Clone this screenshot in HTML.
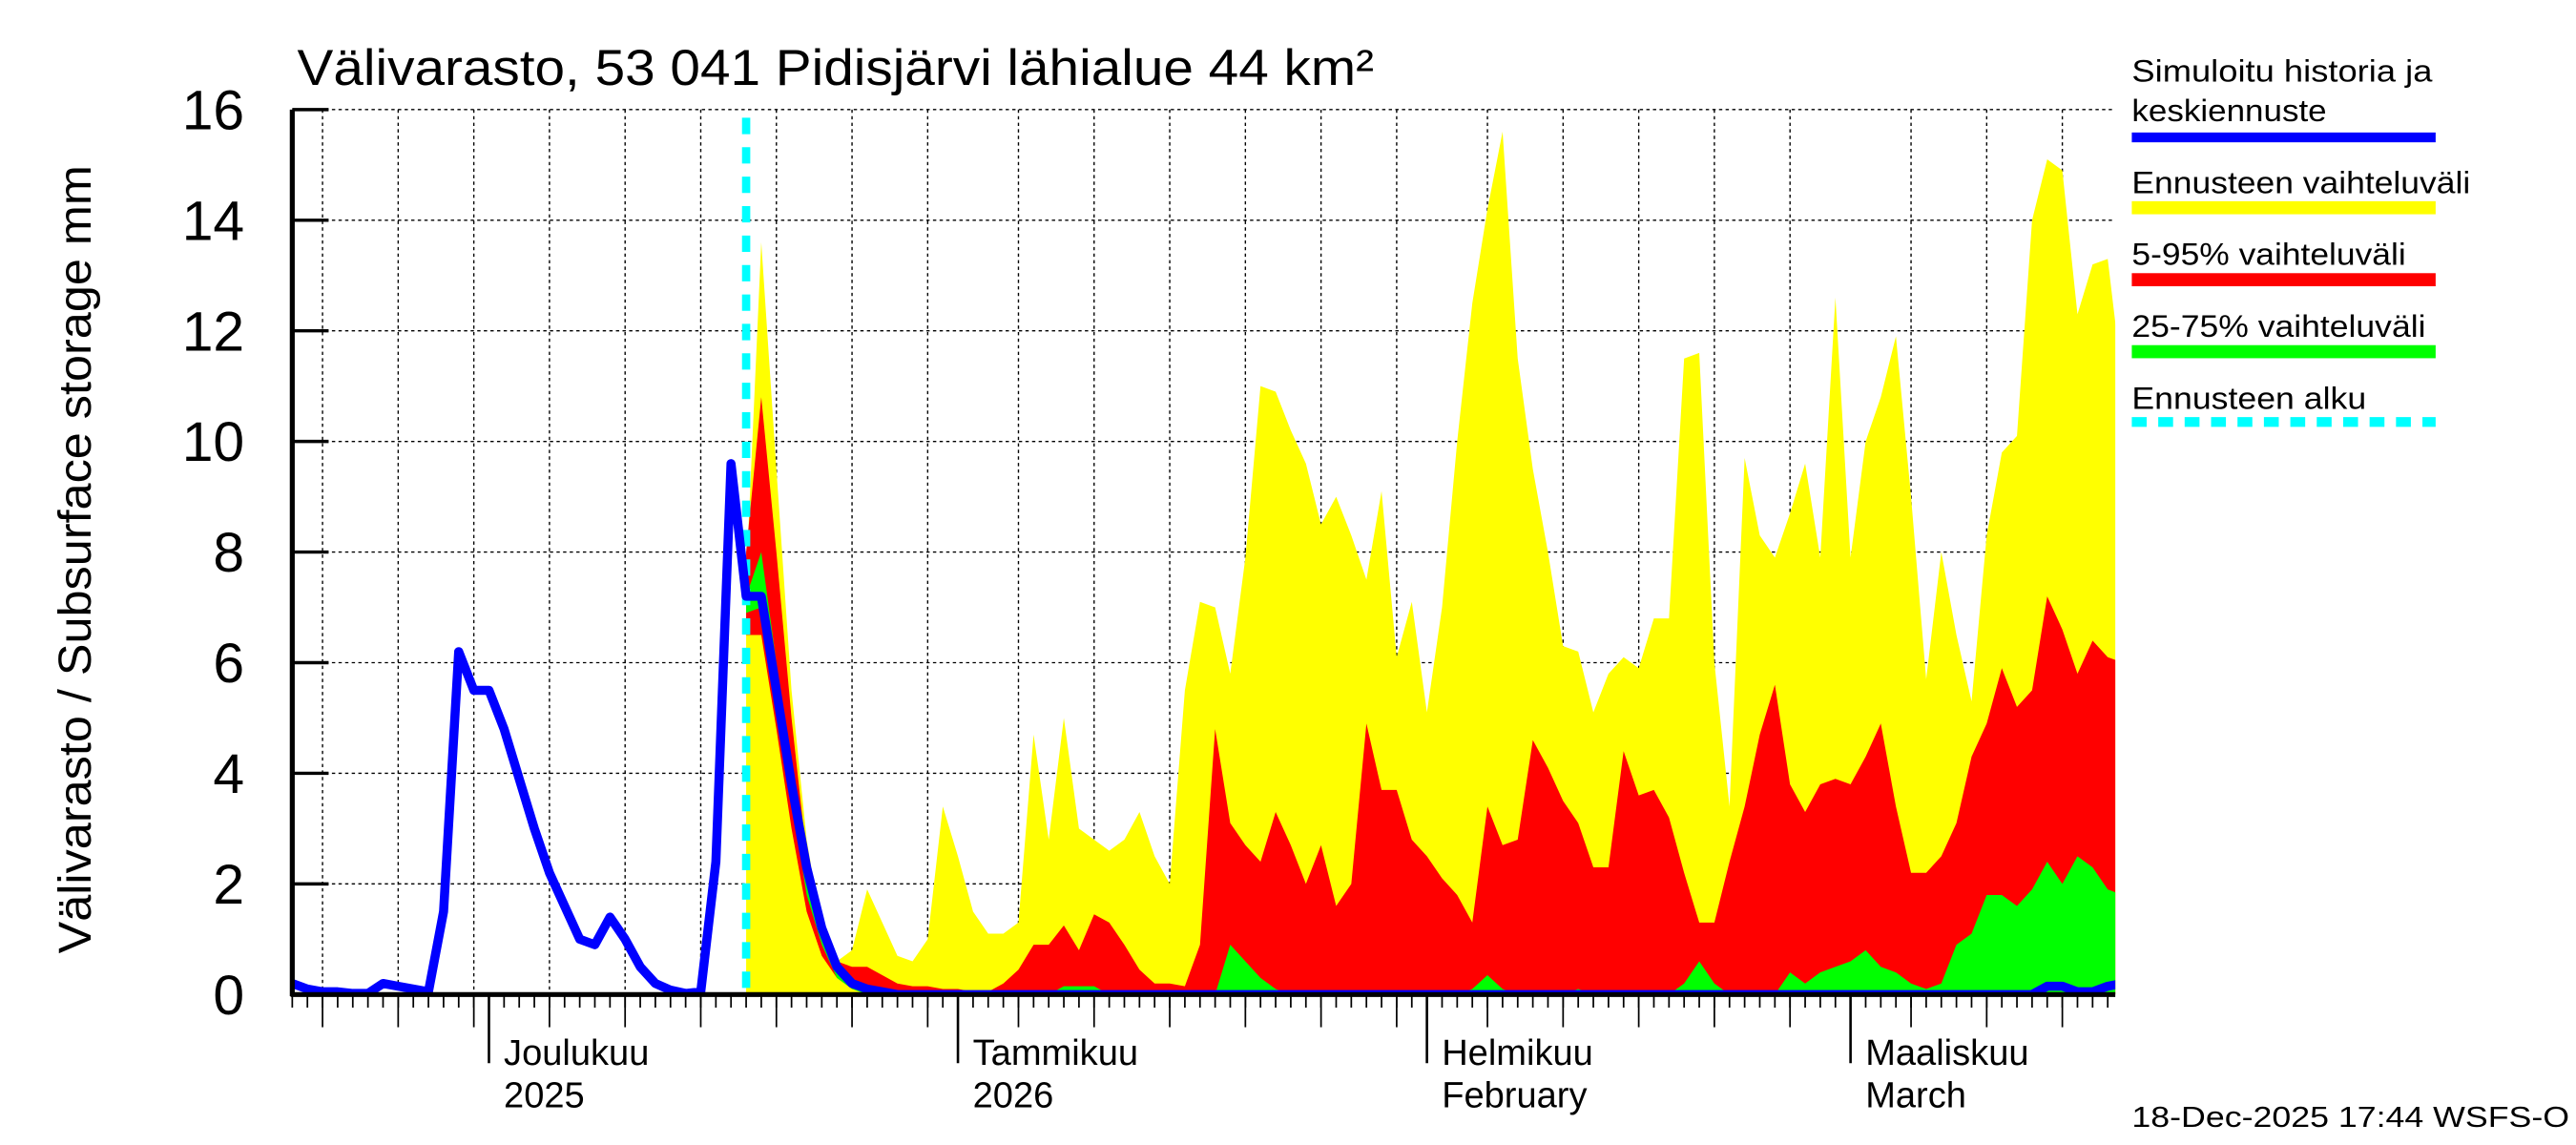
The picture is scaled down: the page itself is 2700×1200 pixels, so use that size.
<!DOCTYPE html>
<html><head><meta charset="utf-8"><style>
html,body{margin:0;padding:0;background:#fff;}
svg{display:block;}
text{font-family:"Liberation Sans",sans-serif;fill:#000;}
</style></head><body>
<svg id="chart" width="2700" height="1200" viewBox="0 0 1560 700" preserveAspectRatio="none" xmlns="http://www.w3.org/2000/svg">
<defs><clipPath id="plotclip"><rect x="177" y="60" width="1104" height="549"/></clipPath></defs>
<g id="grid"></g>
<g id="bands" clip-path="url(#plotclip)"></g>
<g id="lines" clip-path="url(#plotclip)"></g>
<g id="axes"></g>
<text x="180" y="52" font-size="31" textLength="652" lengthAdjust="spacingAndGlyphs">Välivarasto, 53 041 Pidisjärvi lähialue 44 km²</text>
<text transform="translate(55,342) rotate(-90)" text-anchor="middle" font-size="28" textLength="482" lengthAdjust="spacingAndGlyphs">Välivarasto / Subsurface storage  mm</text>
<g>
<text x="1291" y="50" font-size="19" textLength="182" lengthAdjust="spacingAndGlyphs">Simuloitu historia ja</text>
<text x="1291" y="74" font-size="19" textLength="118" lengthAdjust="spacingAndGlyphs">keskiennuste</text>
<rect x="1291" y="81" width="184" height="6" fill="#0000ff"/>
<text x="1291" y="118" font-size="19" textLength="205" lengthAdjust="spacingAndGlyphs">Ennusteen vaihteluväli</text>
<rect x="1291" y="123" width="184" height="8" fill="#ffff00"/>
<text x="1291" y="162" font-size="19" textLength="166" lengthAdjust="spacingAndGlyphs">5-95% vaihteluväli</text>
<rect x="1291" y="167" width="184" height="8" fill="#ff0000"/>
<text x="1291" y="206" font-size="19" textLength="178" lengthAdjust="spacingAndGlyphs">25-75% vaihteluväli</text>
<rect x="1291" y="211" width="184" height="8" fill="#00ff00"/>
<text x="1291" y="250" font-size="19" textLength="142" lengthAdjust="spacingAndGlyphs">Ennusteen alku</text>
<line x1="1291" y1="258" x2="1475" y2="258" stroke="#00ffff" stroke-width="6" stroke-dasharray="9,7"/>
</g>
<text x="1291" y="689" font-size="18" textLength="265" lengthAdjust="spacingAndGlyphs">18-Dec-2025 17:44 WSFS-O</text>
</svg>
<script>
// day 0 = 18 Nov 2025
const historyVals = [0.2,0.1,0.05,0.05,0.02,0.02,0.2,0.15,0.1,0.05,1.5,6.2,5.5,5.5,4.8,3.9,3.0,2.2,1.6,1.0,0.9,1.4,1.0,0.5,0.2,0.08,0.02,0.05,2.4,9.6,7.2];
// forecast arrays: day 30 .. day 121
const yellowHigh = [7.5,13.6,9.5,5.5,2.8,1.2,0.6,0.8,1.9,1.3, 0.7,0.6,1.0,3.4,2.5,1.5,1.1,1.1,1.3,4.7, 2.8,5.0,3.0,2.8,2.6,2.8,3.3,2.5,2.0,5.5, 7.1,7.0,5.8,7.9,11.0,10.9,10.2,9.6,8.5,9.0, 8.3,7.5,9.1,6.1,7.1,5.1,7.0,10.0,12.5,14.2, 15.6,11.5,9.5,8.0,6.3,6.2,5.1,5.8,6.1,5.9, 6.8,6.8,11.5,11.6,6.0,3.4,9.7,8.3,7.9,8.7, 9.6,7.9,12.6,7.9,10.0,10.8,11.9,9.0,5.7,8.0, 6.5,5.3,8.3,9.8,10.1,14.0,15.1,14.9,12.3,13.2, 13.3,11.0];
const redHigh = [8.0,10.8,8.0,5.0,2.5,1.2,0.6,0.5,0.5,0.35, 0.2,0.15,0.15,0.1,0.1,0.05,0.05,0.2,0.45,0.9, 0.9,1.25,0.8,1.45,1.3,0.9,0.45,0.2,0.2,0.15, 0.9,4.8,3.1,2.7,2.4,3.3,2.7,2.0,2.7,1.6, 2.0,4.9,3.7,3.7,2.8,2.5,2.1,1.8,1.3,3.4, 2.7,2.8,4.6,4.1,3.5,3.1,2.3,2.3,4.4,3.6, 3.7,3.2,2.2,1.3,1.3,2.4,3.4,4.7,5.6,3.8, 3.3,3.8,3.9,3.8,4.3,4.9,3.4,2.2,2.2,2.5, 3.1,4.3,4.9,5.9,5.2,5.5,7.2,6.6,5.8,6.4, 6.1,6.0];
const redLowStart = [6.5,6.5,4.8,3.0,1.5,0.7,0.3,0.1,0.05];
const greenHigh = [7.2,8.0,6.0,4.0,2.0,1.0,0.4,0.15,0.05,0, 0,0,0,0,0,0,0,0,0,0, 0,0.15,0.15,0.15,0,0,0,0,0,0, 0,0,0.9,0.6,0.3,0.1,0,0,0,0, 0,0,0,0,0,0,0,0,0.1,0.35, 0.1,0,0,0,0,0.1,0,0,0,0, 0,0,0.2,0.6,0.2,0,0,0,0,0.4, 0.2,0.4,0.5,0.6,0.8,0.5,0.4,0.2,0.1,0.2, 0.9,1.1,1.8,1.8,1.6,1.9,2.4,2.0,2.5,2.3, 1.9,1.8];
const greenLowStart = [6.9,7.0,5.2,3.5,1.8,0.9,0.3,0.1];
const medianStart = [7.2,7.2,5.5,3.8,2.3,1.2,0.5,0.2,0.1,0.05];
const medianEnd = [0.15,0.15,0.05,0.05,0.15,0.2]; // days 116..121
const yTicks = [0,2,4,6,8,10,12,14,16];
const monthLabels = [["Joulukuu","2025"],["Tammikuu","2026"],["Helmikuu","February"],["Maaliskuu","March"]];
const monthDays = [13,44,75,103];

const NS="http://www.w3.org/2000/svg";
const X0=177,X1=1281,Y0=608,Y1=67,DMAX=120.5,FSTART=30;
const xs=d=>X0+(X1-X0)*d/DMAX;
const ys=v=>Y0-(Y0-Y1)*v/16;
function mk(parent,tag,attrs){const e=document.createElementNS(NS,tag);for(const k in attrs)e.setAttribute(k,attrs[k]);parent.appendChild(e);return e;}
const grid=document.getElementById('grid'),bands=document.getElementById('bands'),lines=document.getElementById('lines'),axes=document.getElementById('axes');

yTicks.forEach(t=>{
  if(t>0){const l=mk(grid,'line',{x1:X0,x2:X1,y1:ys(t),y2:ys(t),stroke:'#000','stroke-width':0.8,'stroke-dasharray':'2,2'});
  
  }
  const tk=mk(axes,'line',{x1:X0,x2:X0+22,y1:ys(t),y2:ys(t),stroke:'#000','stroke-width':2});
  
  
  const tx=mk(axes,'text',{x:148,y:ys(t)+12,'text-anchor':'end','font-size':34});
  tx.textContent=t;
  
  
});
const monthStartDays=[-17,13,44,75,103];
const monthLens=[30,31,31,28,31];
const vdays=[];
monthStartDays.forEach((ms,i)=>{for(let k=5;k<=30;k+=5){if(k<=monthLens[i]) vdays.push(ms+k-1);}});
vdays.forEach(d=>{if(d<=0||d>=DMAX)return;
  const l=mk(grid,'line',{x1:xs(d),x2:xs(d),y1:Y1,y2:Y0,stroke:'#000','stroke-width':0.8,'stroke-dasharray':'2,2'});
  
  
  const t=mk(axes,'line',{x1:xs(d),x2:xs(d),y1:Y0,y2:Y0+20,stroke:'#000','stroke-width':1});
  
  
});
for(let d=0;d<=120;d++){const t=mk(axes,'line',{x1:xs(d),x2:xs(d),y1:Y0,y2:Y0+8,stroke:'#000','stroke-width':1});
  
  }
monthDays.forEach((d,i)=>{
  const t=mk(axes,'line',{x1:xs(d),x2:xs(d),y1:Y0,y2:Y0+42,stroke:'#000','stroke-width':1.5});
  
  
  const a=mk(axes,'text',{x:xs(d)+9,y:651,'font-size':22});a.textContent=monthLabels[i][0];
  
  
  const b=mk(axes,'text',{x:xs(d)+9,y:677,'font-size':22});b.textContent=monthLabels[i][1];
  
  
});

function band(high,lowStart,color,name){
  let pts=[];
  high.forEach((v,i)=>pts.push(xs(FSTART+i)+','+ys(v)));
  for(let i=high.length-1;i>=0;i--){const lv=i<lowStart.length?lowStart[i]:0;pts.push(xs(FSTART+i)+','+ys(lv));}
  const p=mk(bands,'polygon',{points:pts.join(' '),fill:color});
  
  
}
band(yellowHigh,[],'#ffff00','band-full-range');
band(redHigh,redLowStart,'#ff0000','band-5-95');
band(greenHigh,greenLowStart,'#00ff00','band-25-75');

const fs=mk(lines,'line',{x1:xs(FSTART),x2:xs(FSTART),y1:Y1+5,y2:Y0,stroke:'#00ffff','stroke-width':5,'stroke-dasharray':'10,8'});



let bp=historyVals.map((v,i)=>xs(i)+','+ys(v));
const n=yellowHigh.length;
for(let i=1;i<n;i++){const d=FSTART+i;let v=0;
  if(i<medianStart.length)v=medianStart[i];
  else if(d>=116)v=medianEnd[d-116];
  bp.push(xs(d)+','+ys(v));}
const bl=mk(lines,'polyline',{points:bp.join(' '),fill:'none',stroke:'#0000ff','stroke-width':5.5,'stroke-linejoin':'round'});



const ax1=mk(axes,'line',{x1:X0,x2:X0,y1:Y1,y2:Y0+1,stroke:'#000','stroke-width':3});


const ax2=mk(axes,'line',{x1:X0-1,x2:X1,y1:Y0,y2:Y0,stroke:'#000','stroke-width':3});


</script>
</body></html>
